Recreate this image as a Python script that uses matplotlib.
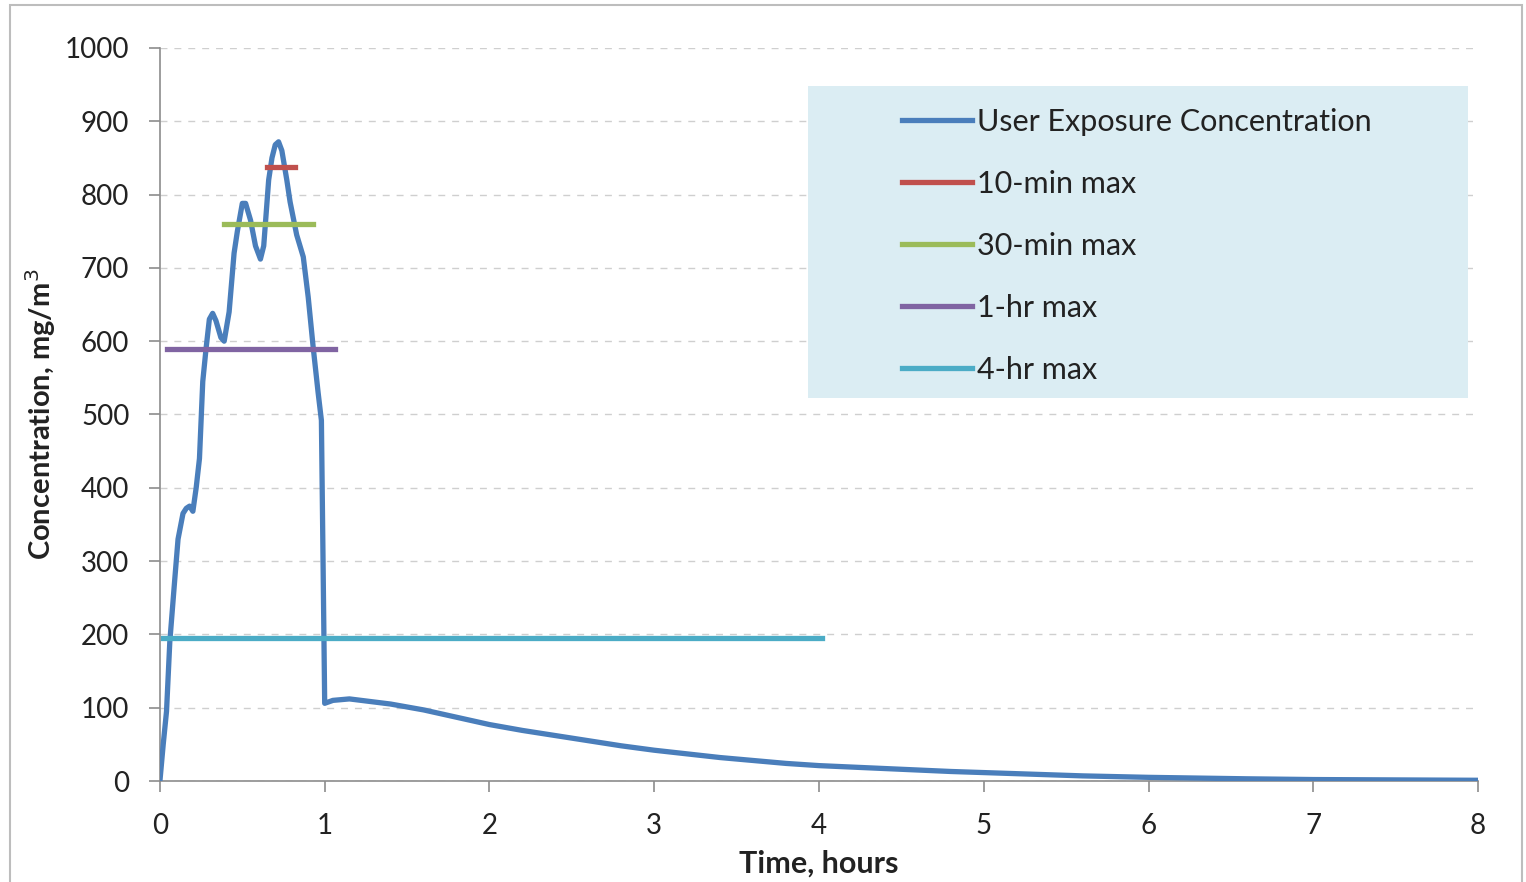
import matplotlib.pyplot as plt
from matplotlib.patches import Rectangle

plt.rcParams['font.family'] = ['Lato', 'DejaVu Sans']

# 노출 농도 곡선
time_h = [0, 0.02, 0.04, 0.06, 0.09, 0.11, 0.14, 0.16, 0.18, 0.20, 0.22, 0.24,
          0.26, 0.28, 0.30, 0.32, 0.34, 0.37, 0.39, 0.42, 0.45, 0.47, 0.50, 0.52,
          0.55, 0.58, 0.61, 0.63, 0.66, 0.68, 0.70, 0.72, 0.74, 0.77, 0.79, 0.83,
          0.87, 0.90, 0.93, 0.96, 0.98, 0.99, 1.00, 1.05, 1.15, 1.40, 1.60, 1.80,
          2.00, 2.20, 2.40, 2.60, 2.80, 3.00, 3.20, 3.40, 3.60, 3.80, 4.00, 4.40,
          4.80, 5.20, 5.60, 6.00, 6.60, 7.00, 8.00]
conc = [0, 50, 95, 190, 275, 330, 365, 372, 375, 368, 400, 440,
        545, 590, 630, 638, 628, 605, 600, 640, 720, 750, 788, 788,
        765, 730, 712, 730, 820, 850, 868, 872, 860, 820, 790, 745,
        715, 660, 592, 530, 492, 300, 106, 110, 112, 105, 97, 87,
        77, 69, 62, 55, 48, 42, 37, 32, 28, 24, 21, 17,
        13, 10, 7, 5, 3, 2, 1]

# 구간별 최대 평균 (레벨, 시작, 끝)
max_labels = ['10-min max', '30-min max', '1-hr max', '4-hr max']
max_levels = [838, 760, 589, 195]
max_start = [0.65, 0.39, 0.04, 0.02]
max_end = [0.82, 0.93, 1.06, 4.02]
max_colors = ['#c0504d', '#9bbb59', '#8064a2', '#4bacc6']

fig = plt.figure(figsize=(15.26, 8.82), dpi=100)
ax = fig.add_axes([0.1048, 0.1145, 0.8638, 0.8311])

# 범례 배경
ax.add_patch(Rectangle((0.492, 0.5225), 0.50, 0.4255, transform=ax.transAxes,
                       facecolor='#dbedf3', edgecolor='none', zorder=1))

ax.plot(time_h, conc, color='#4a7ebb', lw=3.8, zorder=3,
        label='User Exposure Concentration')
for lab, lev, s, e, c in zip(max_labels, max_levels, max_start, max_end, max_colors):
    ax.plot([s, e], [lev, lev], color=c, lw=3.8, zorder=4, label=lab)

ax.set_xlim(0, 8)
ax.set_ylim(0, 1000)
ax.set_xticks(range(0, 9))
ax.set_yticks(range(0, 1001, 100))
ax.grid(axis='y', color='#cfcfcf', ls=(0, (5, 5)), lw=1)
ax.set_axisbelow(True)
for sp in ['top', 'right']:
    ax.spines[sp].set_visible(False)
for sp in ['left', 'bottom']:
    ax.spines[sp].set_color('#8c8c8c')
    ax.spines[sp].set_linewidth(1.2)
ax.tick_params(colors='#8c8c8c', labelcolor='#222222', labelsize=20,
               length=8, width=1.2, direction='out')
ax.tick_params(axis='x', pad=15)
ax.tick_params(axis='y', pad=14)

ax.set_xlabel('Time, hours', fontsize=22, fontweight='bold', color='#222222',
              labelpad=8)
ax.set_ylabel('Concentration, mg/m$^3$', fontsize=21, fontweight='bold',
              color='#222222', labelpad=5)

leg = ax.legend(loc='upper left', bbox_to_anchor=(0.563, 0.918), frameon=False,
                fontsize=22, handlelength=2.3, handletextpad=0.16,
                labelspacing=1.11, borderpad=0, borderaxespad=0)
for t in leg.get_texts():
    t.set_color('#222222')

# 바깥 테두리
fig.add_artist(Rectangle((0.0066, -0.02), 0.991, 1.0143, transform=fig.transFigure,
                         facecolor='none', edgecolor='#bdbdbd', lw=1.5))

fig.savefig('out.png', dpi=100)
